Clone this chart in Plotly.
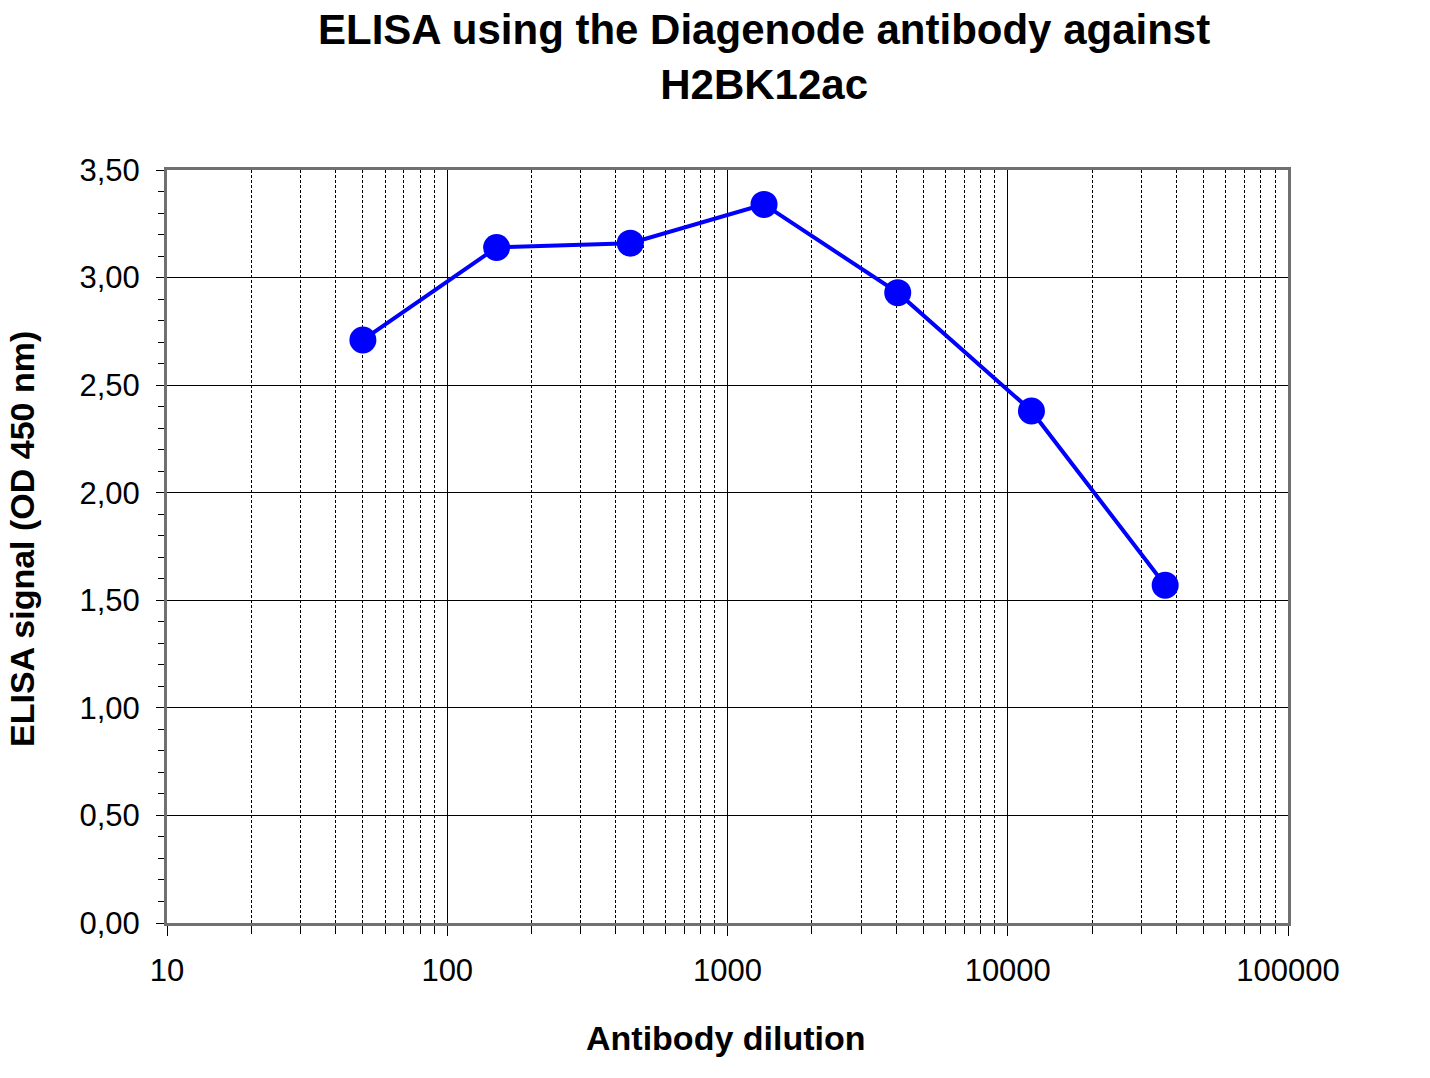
import plotly.graph_objects as go

dilution = [50, 150, 450, 1350, 4050, 12150, 36450]
signal = [2.71, 3.14, 3.16, 3.34, 2.93, 2.38, 1.57]

y_ticks = [0, 0.5, 1.0, 1.5, 2.0, 2.5, 3.0, 3.5]
y_tick_text = ["0,00", "0,50", "1,00", "1,50", "2,00", "2,50", "3,00", "3,50"]
x_ticks = [10, 100, 1000, 10000, 100000]
x_tick_text = ["10", "100", "1000", "10000", "100000"]
x_minor = [m * d for d in [10, 100, 1000, 10000] for m in range(2, 10)]
y_minor = [i / 10 for i in range(0, 36)]

title_text = "ELISA using the Diagenode antibody against<br>H2BK12ac"
x_title = "Antibody dilution"
y_title = "ELISA signal (OD 450 nm)"

FONT = "Liberation Sans, Arial, sans-serif"

fig = go.Figure()
fig.add_trace(go.Scatter(
    x=dilution, y=signal, mode="lines+markers",
    line=dict(color="#0000FF", width=4),
    marker=dict(color="#0000FF", size=27),
    showlegend=False,
))

fig.update_layout(
    width=1430, height=1078,
    margin=dict(l=167, r=142, t=170, b=155),
    paper_bgcolor="white", plot_bgcolor="white",
    font=dict(family=FONT, color="black"),
    xaxis=dict(
        type="log", range=[1, 5],
        tickvals=x_ticks, ticktext=x_tick_text,
        tickfont=dict(size=31, family=FONT),
        ticks="outside", ticklen=10, tickcolor="black", tickwidth=1,
        showgrid=True, gridcolor="black", gridwidth=1,
        showline=True, linecolor="#707070", linewidth=3, mirror=True,
        zeroline=False,
        ticklabelstandoff=8,
        minor=dict(tickvals=x_minor, ticks="outside", ticklen=8, tickcolor="black",
                   showgrid=True, gridcolor="black", gridwidth=1, griddash="3px,2px"),
    ),
    yaxis=dict(
        range=[0, 3.5],
        tickvals=y_ticks, ticktext=y_tick_text,
        tickfont=dict(size=31, family=FONT),
        ticks="outside", ticklen=8, tickcolor="black", tickwidth=1,
        showgrid=True, gridcolor="black", gridwidth=1,
        showline=True, linecolor="#707070", linewidth=3, mirror=True,
        zeroline=False,
        ticklabelstandoff=10,
        minor=dict(tickvals=y_minor, ticks="outside", ticklen=6, tickcolor="black",
                   showgrid=False),
    ),
    annotations=[
        dict(text="<b>" + title_text.replace("<br>", "</b><br><b>") + "</b>",
             xref="paper", yref="paper", x=0.5326, y=1.0 + (170 - 57) / 753.0,
             xanchor="center", yanchor="middle", showarrow=False,
             font=dict(size=42, family=FONT, color="black")),
        dict(text="<b>" + x_title + "</b>",
             xref="paper", yref="paper", x=(726 - 167) / 1121.0, y=-(1038 - 923) / 753.0,
             xanchor="center", yanchor="middle", showarrow=False,
             font=dict(size=34, family=FONT, color="black")),
        dict(text="<b>" + y_title + "</b>", textangle=-90,
             xref="paper", yref="paper", x=(22 - 167) / 1121.0, y=(923 - 539) / 753.0,
             xanchor="center", yanchor="middle", showarrow=False,
             font=dict(size=34, family=FONT, color="black")),
    ],
)

fig.write_html("out.html")
